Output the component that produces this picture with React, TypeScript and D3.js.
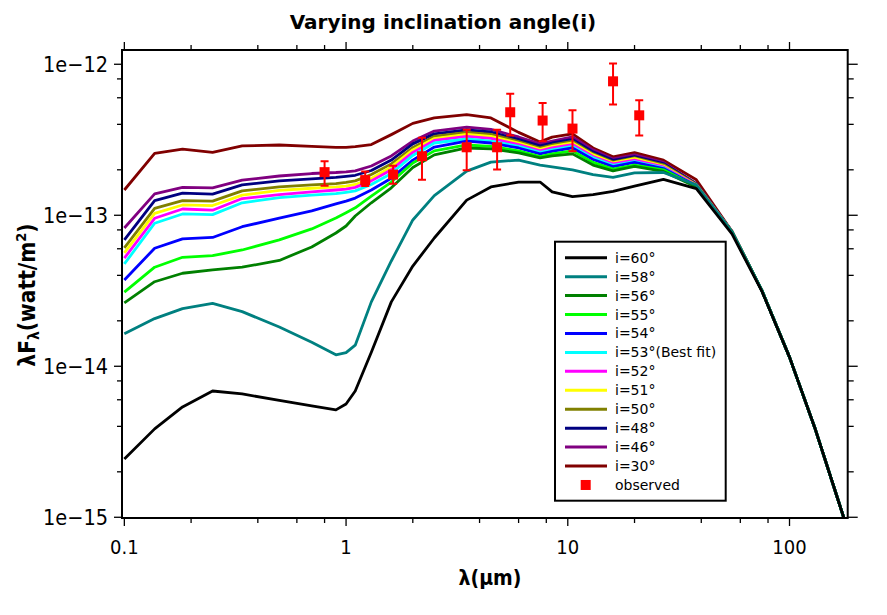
import React from 'react';
import * as d3 from 'd3';

const wavelengths = [0.1, 0.137, 0.183, 0.25, 0.34, 0.5, 0.7, 0.9, 1.0, 1.1, 1.3, 1.6, 2.0, 2.5, 3.5, 4.5, 6, 7.5, 8.5, 10.5, 13, 16, 20, 27, 38, 55, 75, 100, 130, 163, 183];

const i60 = [2.43e-15, 3.85e-15, 5.38e-15, 6.86e-15, 6.56e-15, 5.94e-15, 5.46e-15, 5.14e-15, 5.63e-15, 6.86e-15, 1.24e-14, 2.67e-14, 4.61e-14, 7.07e-14, 1.26e-13, 1.54e-13, 1.66e-13, 1.66e-13, 1.43e-13, 1.33e-13, 1.37e-13, 1.44e-13, 1.56e-13, 1.73e-13, 1.50e-13, 7.52e-14, 3.15e-14, 1.15e-14, 3.92e-15, 1.40e-15, 8.24e-16];
const i58 = [1.64e-14, 2.07e-14, 2.41e-14, 2.61e-14, 2.30e-14, 1.82e-14, 1.44e-14, 1.19e-14, 1.23e-14, 1.38e-14, 2.67e-14, 4.98e-14, 9.31e-14, 1.35e-13, 1.96e-13, 2.25e-13, 2.32e-13, 2.15e-13, 2.09e-13, 2.00e-13, 1.86e-13, 1.78e-13, 1.91e-13, 1.92e-13, 1.59e-13, 7.75e-14, 3.18e-14, 1.15e-14, 3.92e-15, 1.40e-15, 8.24e-16];
const i56 = [2.63e-14, 3.63e-14, 4.13e-14, 4.35e-14, 4.53e-14, 5.02e-14, 6.17e-14, 7.63e-14, 8.49e-14, 9.89e-14, 1.21e-13, 1.52e-13, 2.07e-13, 2.51e-13, 2.79e-13, 2.75e-13, 2.59e-13, 2.40e-13, 2.47e-13, 2.55e-13, 2.15e-13, 1.97e-13, 2.11e-13, 1.95e-13, 1.54e-13, 7.75e-14, 3.18e-14, 1.15e-14, 3.92e-15, 1.40e-15, 8.24e-16];
const i55 = [3.10e-14, 4.53e-14, 5.27e-14, 5.40e-14, 5.89e-14, 6.87e-14, 8.12e-14, 9.59e-14, 1.04e-13, 1.12e-13, 1.34e-13, 1.66e-13, 2.22e-13, 2.67e-13, 2.92e-13, 2.86e-13, 2.67e-13, 2.45e-13, 2.55e-13, 2.67e-13, 2.24e-13, 2.02e-13, 2.15e-13, 2.00e-13, 1.55e-13, 7.77e-14, 3.18e-14, 1.15e-14, 3.92e-15, 1.40e-15, 8.24e-16];
const i54 = [3.73e-14, 6.05e-14, 6.97e-14, 7.13e-14, 8.40e-14, 9.59e-14, 1.07e-13, 1.19e-13, 1.24e-13, 1.30e-13, 1.47e-13, 1.76e-13, 2.32e-13, 2.83e-13, 3.10e-13, 3.01e-13, 2.79e-13, 2.55e-13, 2.65e-13, 2.79e-13, 2.34e-13, 2.10e-13, 2.24e-13, 2.04e-13, 1.56e-13, 7.77e-14, 3.18e-14, 1.15e-14, 3.92e-15, 1.40e-15, 8.24e-16];
const i53 = [4.76e-14, 8.85e-14, 1.02e-13, 1.01e-13, 1.21e-13, 1.31e-13, 1.36e-13, 1.39e-13, 1.42e-13, 1.45e-13, 1.60e-13, 1.89e-13, 2.49e-13, 3.01e-13, 3.20e-13, 3.10e-13, 2.86e-13, 2.61e-13, 2.71e-13, 2.86e-13, 2.40e-13, 2.14e-13, 2.27e-13, 2.06e-13, 1.56e-13, 7.77e-14, 3.18e-14, 1.15e-14, 3.92e-15, 1.40e-15, 8.24e-16];
const i52 = [5.20e-14, 9.55e-14, 1.10e-13, 1.08e-13, 1.29e-13, 1.37e-13, 1.43e-13, 1.47e-13, 1.49e-13, 1.53e-13, 1.69e-13, 2.00e-13, 2.61e-13, 3.13e-13, 3.33e-13, 3.23e-13, 2.94e-13, 2.67e-13, 2.79e-13, 2.94e-13, 2.45e-13, 2.19e-13, 2.32e-13, 2.09e-13, 1.58e-13, 7.77e-14, 3.18e-14, 1.15e-14, 3.92e-15, 1.40e-15, 8.24e-16];
const i51 = [5.63e-14, 1.03e-13, 1.17e-13, 1.16e-13, 1.36e-13, 1.46e-13, 1.51e-13, 1.54e-13, 1.56e-13, 1.60e-13, 1.75e-13, 2.09e-13, 2.71e-13, 3.22e-13, 3.43e-13, 3.33e-13, 3.01e-13, 2.73e-13, 2.86e-13, 3.01e-13, 2.51e-13, 2.22e-13, 2.37e-13, 2.12e-13, 1.59e-13, 7.79e-14, 3.18e-14, 1.15e-14, 3.92e-15, 1.40e-15, 8.24e-16];
const i50 = [6.08e-14, 1.11e-13, 1.25e-13, 1.24e-13, 1.45e-13, 1.54e-13, 1.59e-13, 1.62e-13, 1.65e-13, 1.69e-13, 1.86e-13, 2.19e-13, 2.81e-13, 3.33e-13, 3.54e-13, 3.43e-13, 3.08e-13, 2.79e-13, 2.92e-13, 3.08e-13, 2.55e-13, 2.25e-13, 2.40e-13, 2.16e-13, 1.60e-13, 7.80e-14, 3.18e-14, 1.15e-14, 3.92e-15, 1.40e-15, 8.24e-16];
const i48 = [6.87e-14, 1.25e-13, 1.40e-13, 1.38e-13, 1.59e-13, 1.69e-13, 1.74e-13, 1.78e-13, 1.81e-13, 1.84e-13, 1.98e-13, 2.32e-13, 2.97e-13, 3.46e-13, 3.67e-13, 3.56e-13, 3.18e-13, 2.88e-13, 3.01e-13, 3.18e-13, 2.63e-13, 2.31e-13, 2.45e-13, 2.20e-13, 1.61e-13, 7.82e-14, 3.18e-14, 1.15e-14, 3.92e-15, 1.40e-15, 8.24e-16];
const i46 = [8.24e-14, 1.385e-13, 1.53e-13, 1.52e-13, 1.71e-13, 1.82e-13, 1.89e-13, 1.92e-13, 1.94e-13, 1.97e-13, 2.12e-13, 2.47e-13, 3.10e-13, 3.61e-13, 3.84e-13, 3.70e-13, 3.30e-13, 2.97e-13, 3.10e-13, 3.30e-13, 2.71e-13, 2.36e-13, 2.51e-13, 2.24e-13, 1.62e-13, 7.82e-14, 3.18e-14, 1.15e-14, 3.92e-15, 1.40e-15, 8.24e-16];
const i30 = [1.47e-13, 2.57e-13, 2.74e-13, 2.61e-13, 2.88e-13, 2.92e-13, 2.86e-13, 2.82e-13, 2.82e-13, 2.85e-13, 2.94e-13, 3.42e-13, 4.06e-13, 4.41e-13, 4.64e-13, 4.41e-13, 3.54e-13, 3.06e-13, 3.29e-13, 3.46e-13, 2.79e-13, 2.44e-13, 2.60e-13, 2.32e-13, 1.72e-13, 7.84e-14, 3.18e-14, 1.15e-14, 3.92e-15, 1.40e-15, 8.24e-16];

const seriesLabels = ['i=60°', 'i=58°', 'i=56°', 'i=55°', 'i=54°', 'i=53°(Best fit)', 'i=52°', 'i=51°', 'i=50°', 'i=48°', 'i=46°', 'i=30°'];
const seriesColors = ['#000000', '#008080', '#008000', '#00ff00', '#0000ff', '#00ffff', '#ff00ff', '#ffff00', '#808000', '#000080', '#800080', '#800000'];
const seriesValues = [i60, i58, i56, i55, i54, i53, i52, i51, i50, i48, i46, i30];

const obsLambda = [0.8, 1.22, 1.63, 2.2, 3.5, 4.8, 5.5, 7.7, 10.5, 16, 21];
const obsFlux = [1.93e-13, 1.71e-13, 1.86e-13, 2.46e-13, 2.82e-13, 2.82e-13, 4.81e-13, 4.24e-13, 3.75e-13, 7.71e-13, 4.59e-13];
const obsLow = [1.57e-13, 1.56e-13, 1.62e-13, 1.72e-13, 1.99e-13, 2.01e-13, 3.37e-13, 3.09e-13, 2.65e-13, 5.41e-13, 3.37e-13];
const obsHigh = [2.28e-13, 1.95e-13, 2.13e-13, 3.26e-13, 3.69e-13, 3.69e-13, 6.37e-13, 5.55e-13, 4.96e-13, 1.01e-12, 5.78e-13];

const xMajor = [0.1, 1, 10, 100];
const xMajorLabels = ['0.1', '1', '10', '100'];
const xMinor = [0.2, 0.4, 0.6, 0.8, 2, 4, 6, 8, 20, 40, 60, 80];
const yMajor = [1e-15, 1e-14, 1e-13, 1e-12];
const yMajorLabels = ['1e\u221215', '1e\u221214', '1e\u221213', '1e\u221212'];
const yMinor = [2e-15, 4e-15, 6e-15, 8e-15, 2e-14, 4e-14, 6e-14, 8e-14, 2e-13, 4e-13, 6e-13, 8e-13];

const W = 887, H = 615;
const L = 122, R = 847.7, T = 50, B = 518;
const FONT = "'DejaVu Sans Condensed', 'DejaVu Sans', sans-serif";

export default function App() {
  const x = d3.scaleLog().domain([0.0976, 183]).range([L, R]);
  const y = d3.scaleLog().domain([9.89e-16, 1.243e-12]).range([B, T]);
  const line = d3.line<number>().x((_, i) => x(wavelengths[i])).y((d) => y(d));
  const drawOrder = seriesValues.map((_, i) => i).reverse();

  const legX = 555, legY = 241.7, legW = 170.7, legH = 259, rowH = 18.94;

  return (
    <svg width={W} height={H} style={{ position: 'absolute', left: 0, top: 0, background: '#fff' }} fontFamily={FONT}>
      <rect x={0} y={0} width={W} height={H} fill="#fff" />
      <defs>
        <clipPath id="plotclip"><rect x={L} y={T} width={R - L} height={B - T} /></clipPath>
      </defs>
      <text x={443} y={29} textAnchor="middle" fontSize={20} fontWeight="bold" fontFamily="'DejaVu Sans', sans-serif">Varying inclination angle(i)</text>

      <g clipPath="url(#plotclip)">
        {drawOrder.map((i) => (
          <path key={i} d={line(seriesValues[i]) || ''} fill="none" stroke={seriesColors[i]} strokeWidth={2.8} strokeLinejoin="round" />
        ))}
        {obsLambda.map((l, i) => (
          <g key={'e' + i} stroke="#ff0000" strokeWidth={2}>
            <line x1={x(l)} x2={x(l)} y1={y(obsLow[i])} y2={y(obsHigh[i])} />
            <line x1={x(l) - 4} x2={x(l) + 4} y1={y(obsLow[i])} y2={y(obsLow[i])} />
            <line x1={x(l) - 4} x2={x(l) + 4} y1={y(obsHigh[i])} y2={y(obsHigh[i])} />
          </g>
        ))}
        {obsLambda.map((l, i) => (
          <rect key={'m' + i} x={x(l) - 5} y={y(obsFlux[i]) - 5} width={10} height={10} fill="#ff0000" />
        ))}
      </g>

      {/* frame */}
      <rect x={L} y={T} width={R - L} height={B - T} fill="none" stroke="#000" strokeWidth={2} />

      {/* x ticks */}
      {xMajor.map((v) => (
        <g key={'xm' + v} stroke="#000" strokeWidth={1.3}>
          <line x1={x(v)} x2={x(v)} y1={B} y2={B + 8} />
          <line x1={x(v)} x2={x(v)} y1={T} y2={T - 8} />
        </g>
      ))}
      {xMinor.map((v) => (
        <g key={'xn' + v} stroke="#000" strokeWidth={1.3}>
          <line x1={x(v)} x2={x(v)} y1={B} y2={B + 5} />
          <line x1={x(v)} x2={x(v)} y1={T} y2={T - 5} />
        </g>
      ))}
      {xMajor.map((v, i) => (
        <text key={'xl' + v} x={x(v)} y={554} textAnchor="middle" fontSize={20}>{xMajorLabels[i]}</text>
      ))}

      {/* y ticks */}
      {yMajor.map((v) => (
        <g key={'ym' + v} stroke="#000" strokeWidth={1.3}>
          <line x1={L} x2={L - 8} y1={y(v)} y2={y(v)} />
          <line x1={R} x2={R + 10} y1={y(v)} y2={y(v)} />
        </g>
      ))}
      {yMinor.map((v) => (
        <g key={'yn' + v} stroke="#000" strokeWidth={1.3}>
          <line x1={L} x2={L - 5} y1={y(v)} y2={y(v)} />
          <line x1={R} x2={R + 6} y1={y(v)} y2={y(v)} />
        </g>
      ))}
      {yMajor.map((v, i) => (
        <text key={'yl' + v} x={108} y={y(v) + 7.5} textAnchor="end" fontSize={21.5}>{yMajorLabels[i]}</text>
      ))}

      {/* axis titles */}
      <text x={490} y={585} textAnchor="middle" fontSize={21} fontWeight="bold">λ(μm)</text>
      <text transform="translate(35,295) rotate(-90)" textAnchor="middle" fontSize={22.5} fontWeight="bold">
        λF<tspan fontSize={15.5} dy={4}>λ</tspan><tspan dy={-4}>(watt/m</tspan><tspan fontSize={14.5} dy={-9}>2</tspan><tspan dy={9}>)</tspan>
      </text>

      {/* legend */}
      <rect x={legX} y={legY} width={legW} height={legH} fill="#fff" stroke="#000" strokeWidth={2} />
      {seriesLabels.map((s, i) => (
        <g key={'lg' + i}>
          <line x1={565} x2={607} y1={legY + 16 + i * rowH} y2={legY + 16 + i * rowH} stroke={seriesColors[i]} strokeWidth={3} />
          <text x={615} y={legY + 16 + i * rowH + 5} fontSize={14} fontFamily="'DejaVu Sans', sans-serif">{s}</text>
        </g>
      ))}
      <rect x={580.7} y={legY + 16 + 12 * rowH - 5} width={10} height={10} fill="#ff0000" />
      <text x={615} y={legY + 16 + 12 * rowH + 5} fontSize={14} fontFamily="'DejaVu Sans', sans-serif">observed</text>
    </svg>
  );
}
